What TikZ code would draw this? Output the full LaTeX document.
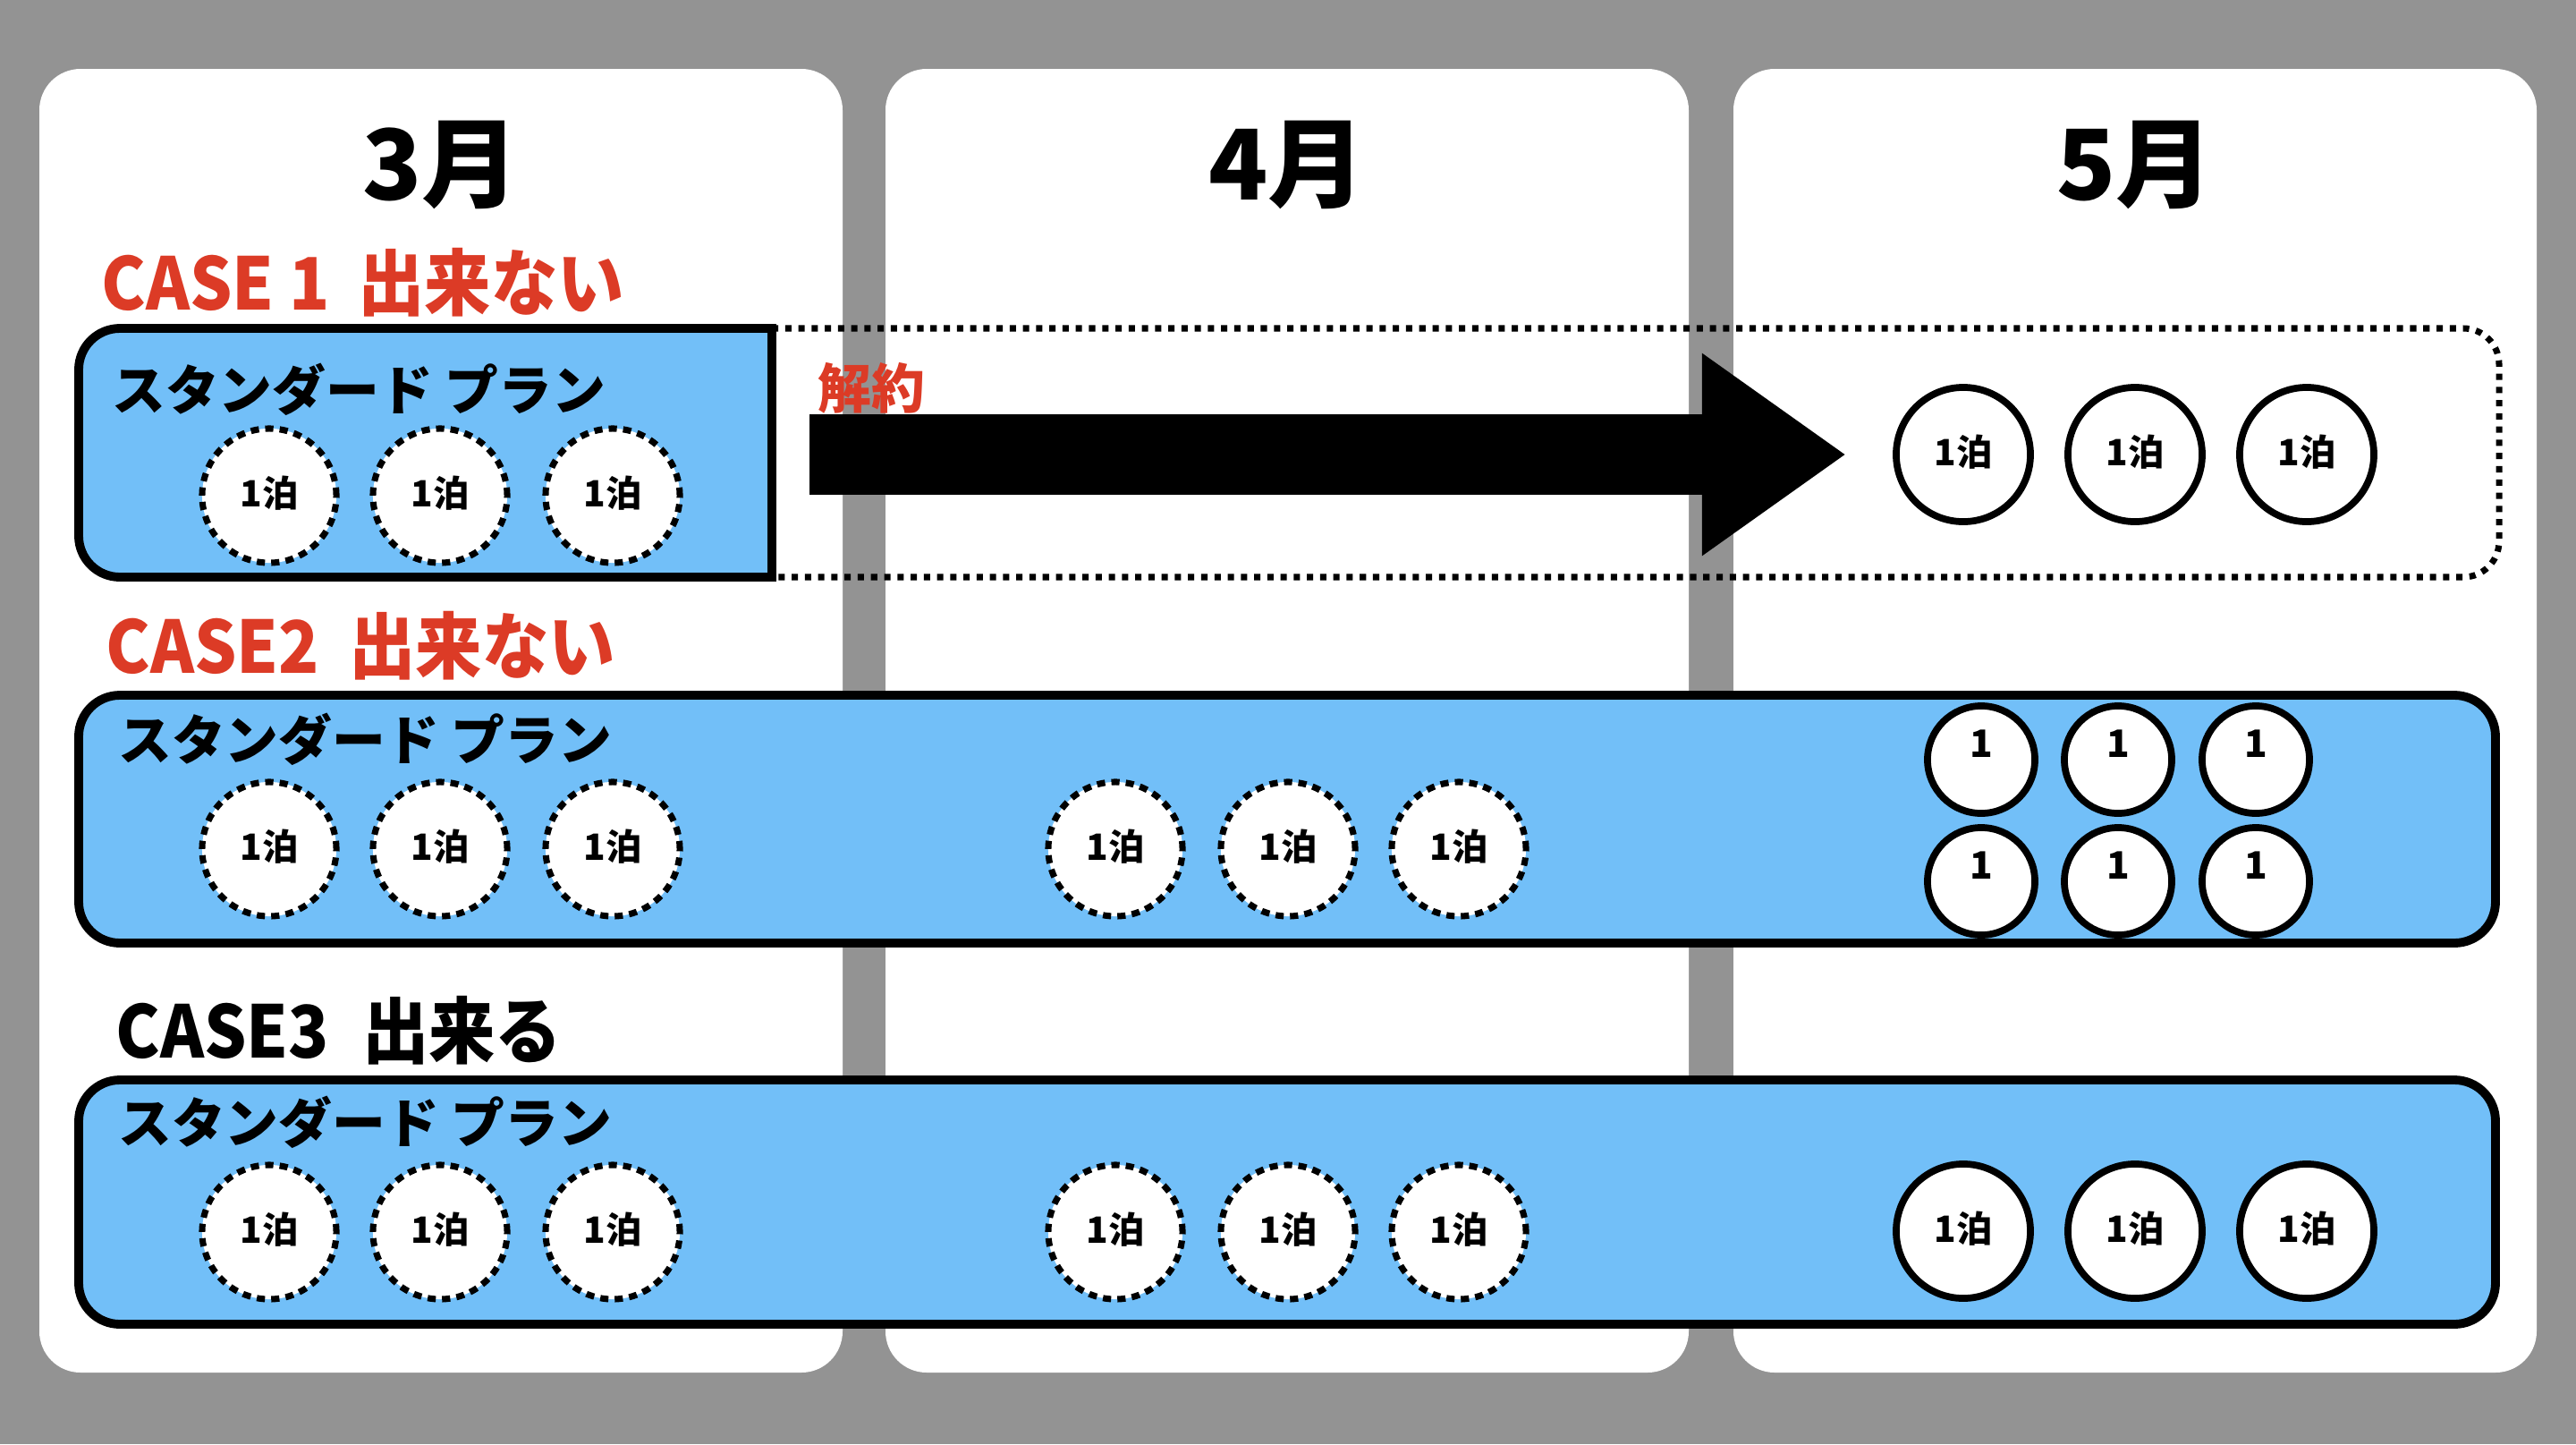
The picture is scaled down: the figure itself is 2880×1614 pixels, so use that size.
\documentclass[tikz,border=0pt]{standalone}
\usepackage{fontspec}
\setmainfont{Noto Sans CJK JP}
\usetikzlibrary{arrows.meta}

\definecolor{bggray}{HTML}{939393}
\definecolor{planblue}{HTML}{72BFF8}
\definecolor{casered}{HTML}{DC3B26}

\newcommand{\narrow}[1]{\scalebox{0.92}[1]{#1}}

\tikzset{
  panel/.style={fill=white, rounded corners=0.46cm},
  plan/.style={fill=planblue, draw=black, line width=2.8pt},
  month/.style={font=\bfseries\fontsize{31}{31}\selectfont},
  caselabel/.style={anchor=west, font=\bfseries\fontsize{23}{23}\selectfont},
  planlabel/.style={anchor=west, font=\bfseries\fontsize{17}{17}\selectfont},
  night/.style={circle, draw=black, fill=white, line width=2.2pt, minimum size=1.5cm,
    inner sep=0pt, text depth=0.1cm, font=\bfseries\fontsize{11.5}{11.5}\selectfont},
  nightdash/.style={night, line width=2pt, dash pattern=on 2.6pt off 2pt},
  smallnight/.style={circle, draw=black, fill=white, line width=2.2pt, minimum size=1.2cm, inner sep=0pt},
  onelabel/.style={font=\bfseries\fontsize{12}{12}\selectfont},
  dotline/.style={draw=black, line width=2pt, dash pattern=on 2pt off 2.2pt},
}

\begin{document}
\begin{tikzpicture}[x=0.01cm, y=-0.01cm]
  \fill[bggray] (0,0) rectangle (2880,1614);

  % three months
  \foreach \xl/\xr/\m in {44/942/3, 990/1888/4, 1938/2836/5} {
    \fill[panel] (\xl,77) rectangle (\xr,1534);
    \node[month] (m\m) at ({(\xl+\xr)/2},184) {\m 月};
  }

  % CASE 1
  \node[caselabel, text=casered] (case1) at (101,316) {\narrow{CASE 1\hspace{0.42em}出来ない}};
  \draw[dotline, rounded corners=0.4cm] (863,367) -- (2794,367) -- (2794,645) -- (863,645);
  \draw[plan] (863,645) -- (863,367) [rounded corners=0.46cm] -- (88,367) -- (88,645) [sharp corners] -- cycle;
  \node[planlabel] (plan1) at (113,435) {スタンダード プラン};
  \foreach \x/\n in {301/a, 492/b, 685/c}
    \node[nightdash] (c1\n) at (\x,554) {1泊};
  \foreach \x/\n in {2195/a, 2387/b, 2579/c}
    \node[night] (r1\n) at (\x,508) {1泊};
  \node[text=casered, font=\bfseries\fontsize{17}{17}\selectfont] (cancel) at (974,434) {解約};
  \coordinate (arrowstart) at (905,508);
  \coordinate (arrowtip) at (2064,508);
  \draw[line width=0.9cm, -{Triangle[length=1.61cm, width=2.15cm]}] (arrowstart) -- (arrowtip);

  % CASE 2
  \node[caselabel, text=casered] (case2) at (106,722) {\narrow{CASE2\hspace{0.45em}出来ない}};
  \draw[plan, rounded corners=0.46cm] (88,777) rectangle (2790,1054);
  \node[planlabel] (plan2) at (120,826) {スタンダード プラン};
  \foreach \x/\n in {301/a, 492/b, 685/c, 1247/d, 1440/e, 1631/f}
    \node[nightdash] (c2\n) at (\x,949) {1泊};
  \foreach \x/\n in {2215/a, 2368/b, 2522/c} {
    \node[smallnight] (u\n) at (\x,849) {};
    \node[onelabel] at ([yshift=0.18cm]u\n.center) {1};
    \node[smallnight] (l\n) at (\x,985) {};
    \node[onelabel] at ([yshift=0.18cm]l\n.center) {1};
  }

  % CASE 3
  \node[caselabel] (case3) at (117,1152) {\narrow{CASE3\hspace{0.5em}出来る}};
  \draw[plan, rounded corners=0.46cm] (88,1207) rectangle (2790,1480);
  \node[planlabel] (plan3) at (120,1254) {スタンダード プラン};
  \foreach \x/\n in {301/a, 492/b, 685/c, 1247/d, 1440/e, 1631/f}
    \node[nightdash] (c3\n) at (\x,1377) {1泊};
  \foreach \x/\n in {2195/a, 2387/b, 2579/c}
    \node[night] (r3\n) at (\x,1376) {1泊};
\end{tikzpicture}
\end{document}
